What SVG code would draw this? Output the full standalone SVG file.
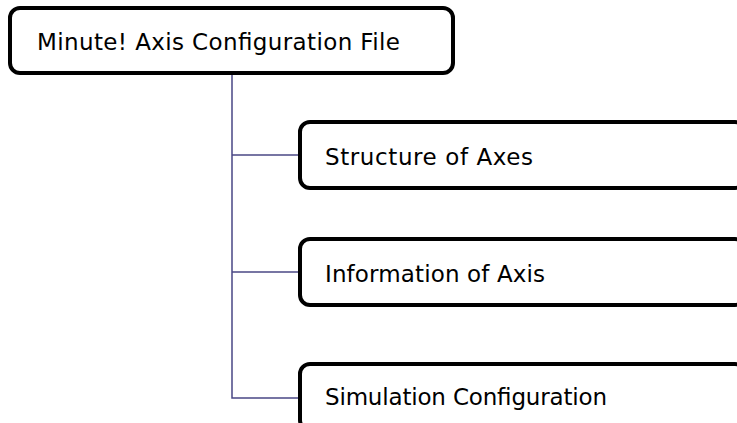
<svg xmlns="http://www.w3.org/2000/svg" width="737" height="423" viewBox="0 0 737 423">
<style>
.box{fill:#fff;stroke:#000;stroke-width:4}
.lbl{font-family:"DejaVu Sans","Liberation Sans",sans-serif;font-size:23px;fill:#000}
.con{fill:none;stroke:#4a4785;stroke-width:1.5}
</style>
<rect width="737" height="423" fill="#fff"/>
<g id="connectors">
<path class="con" d="M232 74 V398 H300"/>
<path class="con" d="M232 155 H300"/>
<path class="con" d="M232 272 H300"/>
</g>
<g id="root">
<rect class="box" x="10" y="8" width="443" height="65" rx="10"/>
<text class="lbl" x="37" y="50" textLength="363">Minute! Axis Configuration File</text>
</g>
<g id="structure">
<rect class="box" x="300" y="122" width="445" height="66" rx="10"/>
<text class="lbl" x="325" y="165" textLength="208">Structure of Axes</text>
</g>
<g id="information">
<rect class="box" x="300" y="239" width="445" height="66" rx="10"/>
<text class="lbl" x="325" y="282" textLength="220">Information of Axis</text>
</g>
<g id="simulation">
<rect class="box" x="300" y="364" width="445" height="66" rx="10"/>
<text class="lbl" x="325" y="405" textLength="282">Simulation Configuration</text>
</g>
</svg>
